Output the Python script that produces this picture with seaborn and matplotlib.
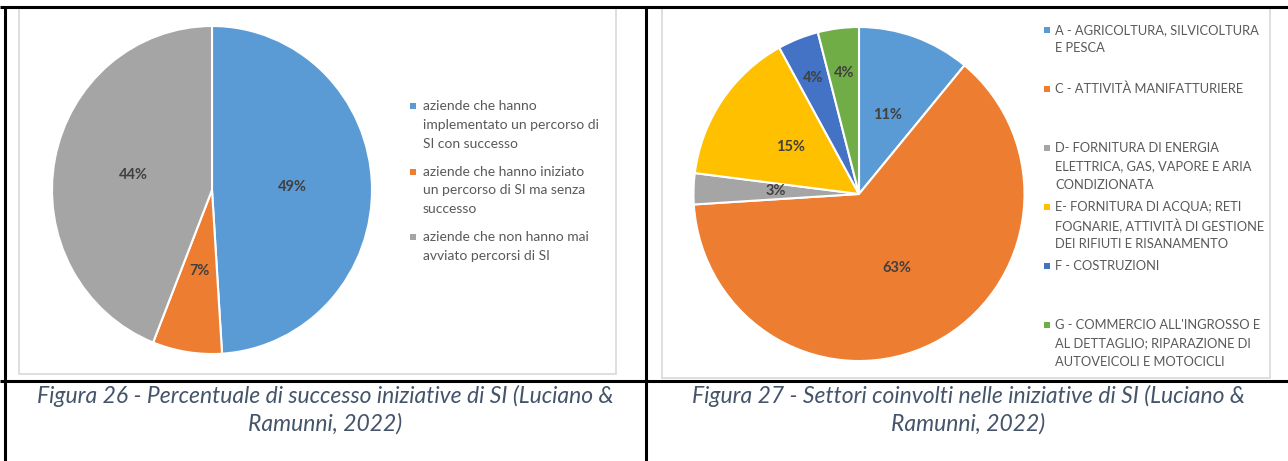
import matplotlib
matplotlib.use("Agg")
import matplotlib.pyplot as plt
from matplotlib.patches import Rectangle
from matplotlib.lines import Line2D
import seaborn as sns

# ---------------- data ----------------
labels1 = [
    "aziende che hanno\nimplementato un percorso di\nSI con successo",
    "aziende che hanno iniziato\nun percorso di SI ma senza\nsuccesso",
    "aziende che non hanno mai\navviato percorsi di SI",
]
values1 = [49, 7, 44]

labels2 = [
    "A - AGRICOLTURA, SILVICOLTURA\nE PESCA",
    "C - ATTIVITÀ MANIFATTURIERE",
    "D- FORNITURA DI ENERGIA\nELETTRICA, GAS, VAPORE E ARIA\nCONDIZIONATA",
    "E- FORNITURA DI ACQUA; RETI\nFOGNARIE, ATTIVITÀ DI GESTIONE\nDEI RIFIUTI E RISANAMENTO",
    "F - COSTRUZIONI",
    "G - COMMERCIO ALL'INGROSSO E\nAL DETTAGLIO; RIPARAZIONE DI\nAUTOVEICOLI E MOTOCICLI",
]
values2 = [11, 63, 3, 15, 4, 4]

caption1 = ["Figura 26 - Percentuale di successo iniziative di SI (Luciano &", "Ramunni, 2022)"]
caption2 = ["Figura 27 - Settori coinvolti nelle iniziative di SI (Luciano &", "Ramunni, 2022)"]

# ---------------- style ----------------
sns.set_theme(style="white")
plt.rcParams["font.family"] = ["Lato", "DejaVu Sans"]

palette1 = sns.color_palette(["#5B9BD5", "#ED7D31", "#A5A5A5"])
palette2 = sns.color_palette(["#5B9BD5", "#ED7D31", "#A5A5A5", "#FFC000", "#4472C4", "#70AD47"])

W, H = 1288, 461
fig = plt.figure(figsize=(W / 100, H / 100), dpi=100)
fig.patch.set_facecolor("white")


def fx(x):
    return x / W


def fy(y):
    return 1 - y / H


def add_axes_px(cx, cy, rx, ry):
    return fig.add_axes([fx(cx - rx), fy(cy + ry), 2 * rx / W, 2 * ry / H])


# ---------------- table lines and chart frames ----------------
bg = fig.add_axes([0, 0, 1, 1])
bg.set_xlim(0, W)
bg.set_ylim(H, 0)
bg.axis("off")
# chart frames
bg.add_patch(Rectangle((19.5, 8.5), 597, 365, fill=False, edgecolor="#D9D9D9", lw=1.2))
bg.add_patch(Rectangle((662, 8.5), 608.5, 369, fill=False, edgecolor="#D9D9D9", lw=1.2))
# table borders
for (x0, y0, x1, y1) in [(0, 7, W, 7), (5, 7, 5, H), (646.5, 7, 646.5, H), (0, 380.5, W, 380.5)]:
    bg.add_line(Line2D([x0, x1], [y0, y1], color="black", lw=2.2, solid_capstyle="butt"))


def draw_pie(values, colors, cx, cy, rx, ry, pctdist):
    ax = add_axes_px(cx, cy, rx, ry)
    wedges, texts, autotexts = ax.pie(
        values, colors=colors, startangle=90, counterclock=False,
        autopct=lambda p: f"{p:.0f}%", pctdistance=0.5, radius=1.0,
        wedgeprops=dict(edgecolor="white", linewidth=1.5),
        textprops=dict(color="#404040", fontsize=10.5, fontweight="bold"),
    )
    # push selected labels outward (Excel best-fit placement)
    for t, d in zip(autotexts, pctdist):
        x, y = t.get_position()
        t.set_position((x / 0.5 * d, y / 0.5 * d))
    ax.set_aspect("auto")
    ax.set_xlim(-1.0, 1.0)
    ax.set_ylim(-1.0, 1.0)
    ax.axis("off")
    return ax


draw_pie(values1, palette1, 212, 190, 160, 164, [0.5, 0.5, 0.5])
draw_pie(values2, palette2, 859, 194, 165.5, 167, [0.5, 0.5, 0.5, 0.5, 0.75, 0.73])


def draw_legend(labels, colors, x_marker, x_text, y_top, entry_step, line_step, fs):
    for i, (lab, col) in enumerate(zip(labels, colors)):
        y0 = y_top + i * entry_step
        bg.add_patch(Rectangle((x_marker - 3, y0 - 3), 6, 6, facecolor=col, edgecolor="none"))
        for k, line in enumerate(lab.split("\n")):
            bg.text(x_text, y0 + k * line_step, line, fontsize=fs, color="#595959",
                    ha="left", va="center")


draw_legend(labels1, palette1, 413, 423, 106, 65.5, 18.8, 10.0)
draw_legend(labels2, palette2, 1047, 1055, 30, 59, 18.5, 9.3)

# ---------------- captions ----------------
for cap, cxp in [(caption1, 325.5), (caption2, 968)]:
    for k, line in enumerate(cap):
        bg.text(cxp, 396 + k * 28, line, fontsize=16.5, style="italic", color="#44546A",
                ha="center", va="center")

fig.savefig("out.png", dpi=100, facecolor="white")
